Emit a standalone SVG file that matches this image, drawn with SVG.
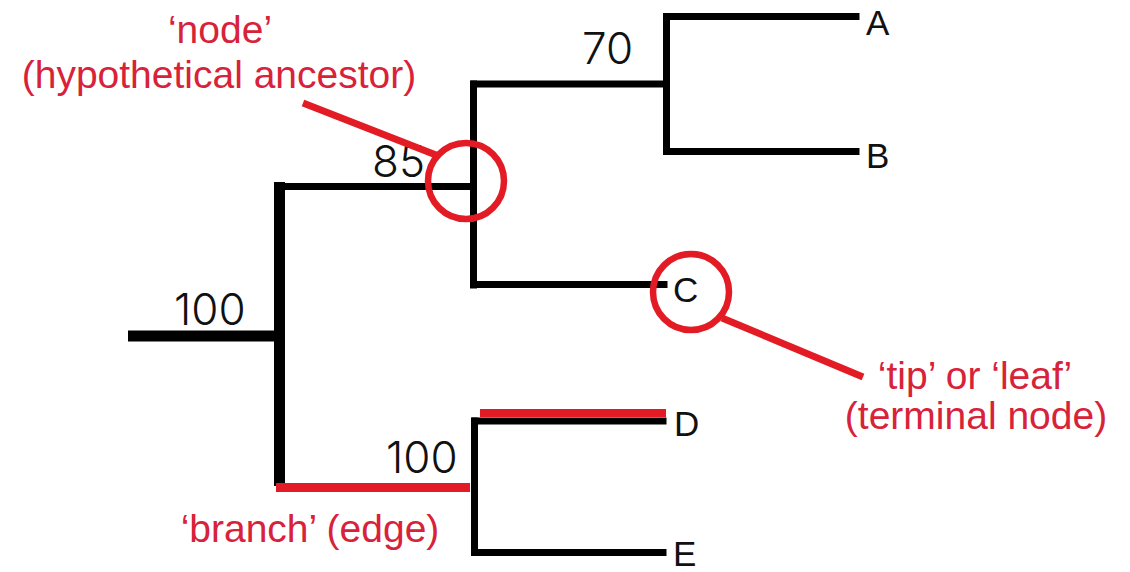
<svg xmlns="http://www.w3.org/2000/svg" width="1130" height="572" viewBox="0 0 1130 572">
  <style>
    .edge { stroke: #000; stroke-width: 7; fill: none; stroke-linecap: square; }
    .trunk { stroke: #000; stroke-width: 11; fill: none; }
    .hl { stroke: #e31b25; fill: none; }
    .tip { font-family: "Liberation Sans", Arial, sans-serif; font-size: 35px; fill: #111; }
    .support { font-family: Inter, "Noto Sans", sans-serif; font-size: 44px; font-weight: 300; fill: #111; }
    .note { font-family: "Liberation Sans", Arial, sans-serif; font-size: 39px; fill: #d8223a; text-anchor: middle; }
  </style>
  <rect width="1130" height="572" fill="#fff"/>

  <!-- tree edges -->
  <g id="connectors">
    <line class="trunk" x1="128" y1="336" x2="285" y2="336"/>
    <line class="trunk" x1="279.5" y1="182" x2="279.5" y2="486"/>
    <line class="edge" x1="283" y1="186.5" x2="473" y2="186.5"/>
    <line class="edge" x1="473.5" y1="84" x2="473.5" y2="285"/>
    <line class="edge" x1="474" y1="84" x2="666" y2="84"/>
    <line class="edge" x1="666.5" y1="16.5" x2="666.5" y2="151.5"/>
    <line class="edge" x1="667" y1="16.5" x2="856" y2="16.5"/>
    <line class="edge" x1="667" y1="151.5" x2="856" y2="151.5"/>
    <line class="edge" x1="474" y1="284.5" x2="664" y2="284.5"/>
    <line class="edge" x1="474.5" y1="421" x2="474.5" y2="552.5"/>
    <line class="edge" x1="475" y1="421" x2="663" y2="421"/>
    <line class="edge" x1="475" y1="552.5" x2="663" y2="552.5"/>
    <!-- highlighted branch segments -->
    <line class="hl" stroke-width="9" x1="276" y1="487.5" x2="470" y2="487.5"/>
    <line class="hl" stroke-width="8" x1="480" y1="413" x2="666" y2="413"/>
  </g>

  <!-- support values -->
  <g id="supports">
    <text class="support" x="582" y="64">70</text>
    <text class="support" x="372" y="177">85</text>
    <text class="support" x="174" y="325">100</text>
    <text class="support" x="386" y="473">100</text>
  </g>

  <!-- tips -->
  <g id="tip-A"><text class="tip" x="866" y="35">A</text></g>
  <g id="tip-B"><text class="tip" x="866" y="168">B</text></g>
  <g id="tip-C"><text class="tip" x="673" y="302">C</text></g>
  <g id="tip-D"><text class="tip" x="674" y="436">D</text></g>
  <g id="tip-E"><text class="tip" x="673" y="566">E</text></g>

  <!-- annotation: internal node -->
  <g id="note-node">
    <text class="note" x="220" y="43">‘node’</text>
    <text class="note" x="219" y="88">(hypothetical ancestor)</text>
    <line class="hl" stroke-width="7" x1="303" y1="103" x2="436" y2="155"/>
    <circle class="hl" stroke-width="6.5" cx="466" cy="181" r="38"/>
  </g>

  <!-- annotation: terminal node -->
  <g id="note-tip">
    <circle class="hl" stroke-width="6.5" cx="691" cy="292" r="38"/>
    <line class="hl" stroke-width="7" x1="722" y1="318" x2="863" y2="377"/>
    <text class="note" x="975" y="389">‘tip’ or ‘leaf’</text>
    <text class="note" x="976" y="429">(terminal node)</text>
  </g>

  <!-- annotation: branch -->
  <g id="note-branch">
    <text class="note" x="310" y="542">‘branch’ (edge)</text>
  </g>
</svg>
